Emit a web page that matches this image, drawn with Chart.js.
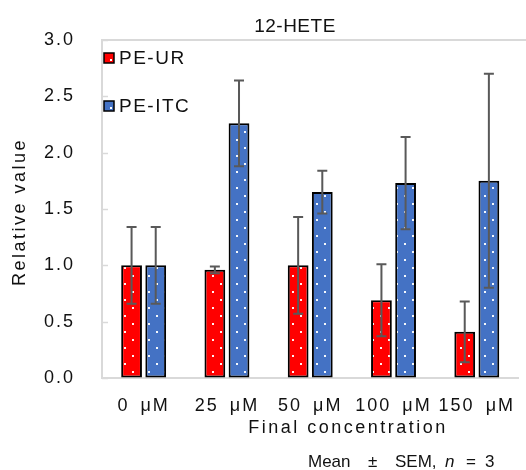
<!DOCTYPE html>
<html>
<head>
<meta charset="utf-8">
<script src="https://cdn.jsdelivr.net/npm/chart.js@4.4.1/dist/chart.umd.min.js"></script>
<style>
  body { margin: 0; background: #fff; }
  canvas { display: block; }
</style>
</head>
<body>
<canvas id="chart" width="526" height="470"></canvas>
<script>
// Chart data
const categories = ['0\u2002μM', '25\u2002μM', '50\u2002μM', '100\u2002μM', '150\u2002μM'];
const seriesNames = ['PE-UR', 'PE-ITC'];
const urValues = [1.0, 0.96, 1.0, 0.69, 0.41];
const urErrors = [0.34, 0.03, 0.43, 0.32, 0.27];
const itcValues = [1.0, 2.26, 1.65, 1.73, 1.75];
const itcErrors = [0.34, 0.38, 0.19, 0.41, 0.95];
const yTickValues = [0, 0.5, 1.0, 1.5, 2.0, 2.5, 3.0];

const FONT = "'Liberation Sans', Arial, sans-serif";
const TEXT = '#111';
const AXIS = '#d9d9d9';

const canvas = document.getElementById('chart');
const ctx = canvas.getContext('2d');

// white dotted fill like the Excel pattern
function dotPattern(color) {
  const tile = document.createElement('canvas');
  tile.width = 16;
  tile.height = 16;
  const g = tile.getContext('2d');
  g.fillStyle = color;
  g.fillRect(0, 0, 16, 16);
  g.fillStyle = 'rgba(255,255,255,0.95)';
  g.fillRect(4, 3, 2, 2);
  g.fillRect(12, 11, 2, 2);
  return ctx.createPattern(tile, 'repeat');
}

const colors = ['#ff0000', '#4472c4'];
const errors = [urErrors, itcErrors];

const figPlugin = {
  id: 'fig',
  beforeDraw(chart) {
    const c = chart.ctx;
    c.save();
    c.fillStyle = '#fff';
    c.fillRect(0, 0, chart.width, chart.height);
    c.restore();
    c.letterSpacing = '2px';
  },
  afterDatasetsDraw(chart) {
    // error bars
    const c = chart.ctx;
    const y = chart.scales.y;
    c.save();
    c.strokeStyle = '#595959';
    c.lineWidth = 2;
    chart.data.datasets.forEach((ds, i) => {
      const meta = chart.getDatasetMeta(i);
      meta.data.forEach((bar, j) => {
        const v = ds.data[j];
        const e = errors[i][j];
        const top = y.getPixelForValue(v + e);
        const bot = y.getPixelForValue(v - e);
        c.beginPath();
        c.moveTo(bar.x, top);
        c.lineTo(bar.x, bot);
        c.moveTo(bar.x - 5, top);
        c.lineTo(bar.x + 5, top);
        c.moveTo(bar.x - 5, bot);
        c.lineTo(bar.x + 5, bot);
        c.stroke();
      });
    });
    c.restore();
  },
  afterDraw(chart) {
    const c = chart.ctx;
    const a = chart.chartArea;
    const y = chart.scales.y;
    c.save();
    // top border of plot area
    c.strokeStyle = AXIS;
    c.lineWidth = 2;
    c.beginPath();
    c.moveTo(a.left, a.top);
    c.lineTo(chart.width, a.top);
    c.stroke();
    // small inner tick marks on the value axis
    c.lineWidth = 1.5;
    yTickValues.forEach(v => {
      const py = Math.round(y.getPixelForValue(v)) + 0.5;
      c.beginPath();
      c.moveTo(a.left, py);
      c.lineTo(a.left + 6, py);
      c.stroke();
    });

    c.fillStyle = TEXT;
    c.textBaseline = 'middle';

    // title
    c.font = '19px ' + FONT;
    c.letterSpacing = '0.5px';
    c.textAlign = 'center';
    c.fillText('12-HETE', 295, 27);

    // legend inside the plot area
    c.textAlign = 'left';
    c.letterSpacing = '1.5px';
    const legendY = [58, 106];
    seriesNames.forEach((name, i) => {
      const ly = legendY[i];
      c.fillStyle = colors[i];
      c.fillRect(104, ly - 5, 10, 10);
      c.strokeStyle = '#000';
      c.lineWidth = 1.5;
      c.strokeRect(104, ly - 5, 10, 10);
      c.fillStyle = '#fff';
      c.fillRect(110, ly + 1, 2, 2);
      c.fillStyle = TEXT;
      c.fillText(name, 119, ly + 1);
    });

    // axis titles
    c.font = '18px ' + FONT;
    c.letterSpacing = '2.5px';
    c.textAlign = 'center';
    c.fillText('Final concentration', 348, 428);
    c.save();
    c.translate(20, 212);
    c.rotate(-Math.PI / 2);
    c.fillText('Relative value', 0, 0);
    c.restore();

    // note
    c.textAlign = 'left';
    c.font = '17px ' + FONT;
    c.letterSpacing = '0px';
    const ny = 462;
    c.fillText('Mean', 308, ny);
    c.fillText('±', 368, ny);
    c.fillText('SEM,', 395, ny);
    c.font = 'italic 17px ' + FONT;
    c.fillText('n', 445, ny);
    c.font = '17px ' + FONT;
    c.fillText('=', 466, ny);
    c.fillText('3', 485, ny);
    c.restore();
  }
};

new Chart(canvas, {
  type: 'bar',
  data: {
    labels: categories,
    datasets: [
      {
        label: seriesNames[0],
        data: urValues,
        backgroundColor: dotPattern(colors[0]),
        borderColor: '#000',
        borderWidth: 2,
        borderSkipped: false,
        categoryPercentage: 0.58,
        barPercentage: 0.86
      },
      {
        label: seriesNames[1],
        data: itcValues,
        backgroundColor: dotPattern(colors[1]),
        borderColor: '#000',
        borderWidth: 2,
        borderSkipped: false,
        categoryPercentage: 0.58,
        barPercentage: 0.86
      }
    ]
  },
  options: {
    responsive: false,
    animation: false,
    devicePixelRatio: 1,
    layout: {
      padding: { left: 0, top: 40, right: 0, bottom: 0 }
    },
    plugins: {
      legend: { display: false },
      title: { display: false },
      tooltip: { enabled: false }
    },
    scales: {
      x: {
        afterFit: s => { s.height = 92; },
        grid: { display: true, drawOnChartArea: false, drawTicks: false },
        border: { display: true, color: AXIS, width: 2 },
        ticks: {
          padding: 17,
          color: TEXT,
          autoSkip: false,
          maxRotation: 0,
          font: { family: FONT, size: 18 }
        }
      },
      y: {
        min: 0,
        max: 3,
        afterFit: s => { s.width = 102; },
        afterBuildTicks: s => { s.ticks = yTickValues.map(v => ({ value: v })); },
        grid: { display: true, drawOnChartArea: false, drawTicks: false },
        border: { display: true, color: AXIS, width: 2 },
        ticks: {
          padding: 27,
          color: TEXT,
          font: { family: FONT, size: 18 },
          callback: v => Number(v).toFixed(1)
        }
      }
    }
  },
  plugins: [figPlugin]
});
</script>
</body>
</html>
